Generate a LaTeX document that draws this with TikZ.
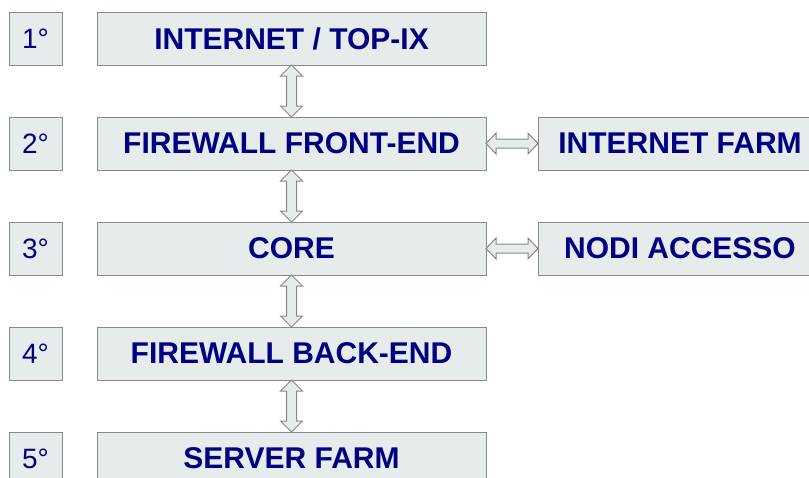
\documentclass[tikz,border=0pt]{standalone}
\usepackage{fontspec}
\setmainfont{Liberation Sans}
\usetikzlibrary{calc}
\definecolor{boxfill}{HTML}{E6ECEC}
\definecolor{boxline}{HTML}{888888}
\definecolor{navy}{HTML}{000080}
\tikzset{
  every node/.style={inner sep=0pt, outer sep=0pt},
  numbox/.style={draw=boxline, fill=boxfill, line width=1pt, minimum width=53pt, minimum height=53pt,
    text=navy, font=\fontsize{28}{30}\selectfont},
  mainbox/.style={draw=boxline, fill=boxfill, line width=1pt, minimum width=389pt, minimum height=53pt,
    text=navy, font=\fontsize{30}{32}\selectfont\bfseries},
  sidebox/.style={draw=boxline, fill=boxfill, line width=1pt, minimum width=284pt, minimum height=53pt,
    text=navy, font=\fontsize{30}{32}\selectfont\bfseries},
  dbl/.style={draw=boxline, fill=boxfill, line width=1pt, line join=miter}
}
\begin{document}
\begin{tikzpicture}[x=1pt,y=-1pt]
\useasboundingbox (0,0) rectangle (809,477);
\foreach \i/\t in {1/1°,2/2°,3/3°,4/4°,5/5°}{
  \node[numbox] (n\i) at (35.5,{38.5+105*(\i-1)}) {\t};
}
\node[mainbox] (m1) at (291.5,38.5) {INTERNET / TOP-IX};
\node[mainbox] (m2) at (291.5,143.5) {FIREWALL FRONT-END};
\node[mainbox] (m3) at (291.5,248.5) {CORE};
\node[mainbox] (m4) at (291.5,353.5) {FIREWALL BACK-END};
\node[mainbox] (m5) at (291.5,458.5) {SERVER FARM};
\node[sidebox] (s2) at (680,143.5) {INTERNET FARM};
\node[sidebox] (s3) at (680,248.5) {NODI ACCESSO};
% vertical double arrows
\foreach \a/\b in {m1/m2,m2/m3,m3/m4,m4/m5}{
  \draw[dbl] (\a.south) -- ++(11,11) -- ++(-6,0) -- ($(\b.north)+(5,-11)$) -- ++(6,0) -- (\b.north)
    -- ++(-11,-11) -- ++(6,0) -- ($(\a.south)+(-5,11)$) -- ++(-6,0) -- cycle;
}
% horizontal double arrows
\foreach \a/\b in {m2/s2,m3/s3}{
  \draw[dbl] (\a.east) -- ++(10,-10.5) -- ++(0,6) -- ($(\b.west)+(-10,-4.5)$) -- ++(0,-6) -- (\b.west)
    -- ++(-10,10.5) -- ++(0,-6) -- ($(\a.east)+(10,4.5)$) -- ++(0,6) -- cycle;
}
\end{tikzpicture}
\end{document}
